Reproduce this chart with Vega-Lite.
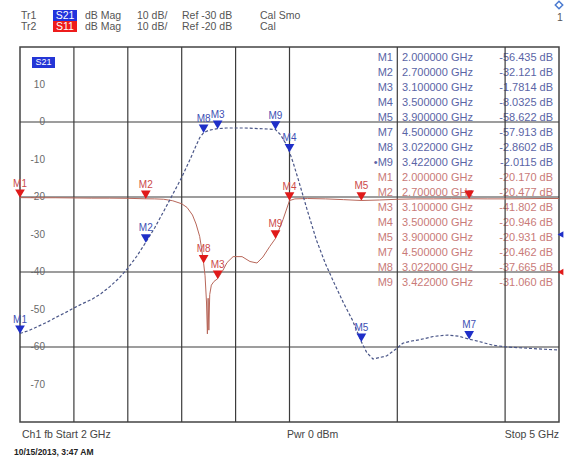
{
  "$schema": "https://vega.github.io/schema/vega-lite/v6.json",
  "width": 539,
  "height": 375,
  "autosize": {"type": "none"},
  "padding": {"left": 20, "top": 47, "right": 7, "bottom": 39},
  "background": "white",
  "config": {"view": {"stroke": "#444444", "strokeWidth": 1.5}, "font": "Liberation Sans", "text": {"font": "Liberation Sans"}},
  "resolve": {"scale": {"y": "independent", "color": "independent"}},
  "data": {"values": [{}]},
  "datasets": {
    "s21": [
      {"f": 2.00, "db": -56.4}, {"f": 2.05, "db": -55.6}, {"f": 2.10, "db": -54.5}, {"f": 2.15, "db": -53.4},
      {"f": 2.20, "db": -52.1}, {"f": 2.25, "db": -50.9}, {"f": 2.30, "db": -49.6}, {"f": 2.35, "db": -48.4},
      {"f": 2.40, "db": -47.3}, {"f": 2.45, "db": -45.8}, {"f": 2.50, "db": -43.9}, {"f": 2.55, "db": -41.7},
      {"f": 2.60, "db": -39.0}, {"f": 2.65, "db": -35.8}, {"f": 2.70, "db": -32.1}, {"f": 2.75, "db": -28.2},
      {"f": 2.80, "db": -23.8}, {"f": 2.85, "db": -19.3}, {"f": 2.90, "db": -14.8}, {"f": 2.95, "db": -9.6},
      {"f": 2.98, "db": -6.3}, {"f": 3.00, "db": -4.2}, {"f": 3.022, "db": -2.86}, {"f": 3.05, "db": -2.2},
      {"f": 3.10, "db": -1.78}, {"f": 3.15, "db": -1.6}, {"f": 3.20, "db": -1.6}, {"f": 3.25, "db": -1.6},
      {"f": 3.30, "db": -1.7}, {"f": 3.35, "db": -1.8}, {"f": 3.39, "db": -1.9}, {"f": 3.422, "db": -2.01},
      {"f": 3.45, "db": -3.4}, {"f": 3.48, "db": -5.8}, {"f": 3.50, "db": -8.03}, {"f": 3.52, "db": -10.8},
      {"f": 3.55, "db": -15.5}, {"f": 3.60, "db": -23.7}, {"f": 3.65, "db": -31.5}, {"f": 3.70, "db": -37.8},
      {"f": 3.75, "db": -43.1}, {"f": 3.80, "db": -48.2}, {"f": 3.85, "db": -52.8}, {"f": 3.90, "db": -58.6},
      {"f": 3.93, "db": -61.5}, {"f": 3.965, "db": -63.2}, {"f": 4.04, "db": -62.4}, {"f": 4.10, "db": -60.3},
      {"f": 4.13, "db": -59.0}, {"f": 4.18, "db": -58.4}, {"f": 4.23, "db": -58.0}, {"f": 4.30, "db": -57.2},
      {"f": 4.38, "db": -56.8}, {"f": 4.44, "db": -57.1}, {"f": 4.50, "db": -57.9}, {"f": 4.56, "db": -58.6},
      {"f": 4.63, "db": -59.5}, {"f": 4.71, "db": -60.0}, {"f": 4.78, "db": -60.2}, {"f": 4.85, "db": -60.4},
      {"f": 4.92, "db": -60.6}, {"f": 5.00, "db": -60.8}
    ],
    "s11": [
      {"f": 2.00, "db": -20.17}, {"f": 2.10, "db": -20.2}, {"f": 2.20, "db": -20.2}, {"f": 2.30, "db": -20.25},
      {"f": 2.40, "db": -20.3}, {"f": 2.50, "db": -20.3}, {"f": 2.60, "db": -20.35}, {"f": 2.70, "db": -20.48},
      {"f": 2.75, "db": -20.5}, {"f": 2.80, "db": -20.6}, {"f": 2.85, "db": -21.0}, {"f": 2.90, "db": -21.8},
      {"f": 2.93, "db": -22.8}, {"f": 2.96, "db": -24.8}, {"f": 2.98, "db": -27.2}, {"f": 3.00, "db": -30.5},
      {"f": 3.01, "db": -33.5}, {"f": 3.022, "db": -37.67}, {"f": 3.030, "db": -41.0}, {"f": 3.038, "db": -48.0},
      {"f": 3.043, "db": -56.5}, {"f": 3.047, "db": -47.0}, {"f": 3.051, "db": -55.5}, {"f": 3.056, "db": -46.0},
      {"f": 3.065, "db": -43.5}, {"f": 3.08, "db": -42.5}, {"f": 3.10, "db": -41.8}, {"f": 3.13, "db": -39.5},
      {"f": 3.152, "db": -37.5}, {"f": 3.186, "db": -35.9}, {"f": 3.236, "db": -35.9}, {"f": 3.28, "db": -37.2},
      {"f": 3.319, "db": -37.6}, {"f": 3.352, "db": -36.0}, {"f": 3.39, "db": -33.2}, {"f": 3.422, "db": -31.06},
      {"f": 3.464, "db": -26.0}, {"f": 3.50, "db": -20.95}, {"f": 3.53, "db": -20.5}, {"f": 3.60, "db": -20.4},
      {"f": 3.70, "db": -20.5}, {"f": 3.80, "db": -20.7}, {"f": 3.90, "db": -20.93}, {"f": 4.00, "db": -20.8},
      {"f": 4.10, "db": -20.6}, {"f": 4.20, "db": -20.5}, {"f": 4.30, "db": -20.5}, {"f": 4.40, "db": -20.45},
      {"f": 4.50, "db": -20.46}, {"f": 4.60, "db": -20.5}, {"f": 4.70, "db": -20.5}, {"f": 4.80, "db": -20.45},
      {"f": 4.90, "db": -20.4}, {"f": 5.00, "db": -20.4}
    ],
    "markers": [
      {"trace": "S21", "m": "M1", "f": 2.0, "db": -56.435},
      {"trace": "S21", "m": "M2", "f": 2.7, "db": -32.121},
      {"trace": "S21", "m": "M3", "f": 3.1, "db": -1.7814},
      {"trace": "S21", "m": "M4", "f": 3.5, "db": -8.0325},
      {"trace": "S21", "m": "M5", "f": 3.9, "db": -58.622},
      {"trace": "S21", "m": "M7", "f": 4.5, "db": -57.913},
      {"trace": "S21", "m": "M8", "f": 3.022, "db": -2.8602},
      {"trace": "S21", "m": "M9", "f": 3.422, "db": -2.0115},
      {"trace": "S11", "m": "M1", "f": 2.0, "db": -20.17},
      {"trace": "S11", "m": "M2", "f": 2.7, "db": -20.477},
      {"trace": "S11", "m": "M3", "f": 3.1, "db": -41.802},
      {"trace": "S11", "m": "M4", "f": 3.5, "db": -20.946},
      {"trace": "S11", "m": "M5", "f": 3.9, "db": -20.931},
      {"trace": "S11", "m": "M7", "f": 4.5, "db": -20.462},
      {"trace": "S11", "m": "M8", "f": 3.022, "db": -37.665},
      {"trace": "S11", "m": "M9", "f": 3.422, "db": -31.06}
    ],
    "table": [
      {"row": 0, "trace": "S21", "m": "M1", "freq": "2.000000 GHz", "val": "-56.435 dB"},
      {"row": 1, "trace": "S21", "m": "M2", "freq": "2.700000 GHz", "val": "-32.121 dB"},
      {"row": 2, "trace": "S21", "m": "M3", "freq": "3.100000 GHz", "val": "-1.7814 dB"},
      {"row": 3, "trace": "S21", "m": "M4", "freq": "3.500000 GHz", "val": "-8.0325 dB"},
      {"row": 4, "trace": "S21", "m": "M5", "freq": "3.900000 GHz", "val": "-58.622 dB"},
      {"row": 5, "trace": "S21", "m": "M7", "freq": "4.500000 GHz", "val": "-57.913 dB"},
      {"row": 6, "trace": "S21", "m": "M8", "freq": "3.022000 GHz", "val": "-2.8602 dB"},
      {"row": 7, "trace": "S21", "m": "•M9", "freq": "3.422000 GHz", "val": "-2.0115 dB"},
      {"row": 8, "trace": "S11", "m": "M1", "freq": "2.000000 GHz", "val": "-20.170 dB"},
      {"row": 9, "trace": "S11", "m": "M2", "freq": "2.700000 GHz", "val": "-20.477 dB"},
      {"row": 10, "trace": "S11", "m": "M3", "freq": "3.100000 GHz", "val": "-41.802 dB"},
      {"row": 11, "trace": "S11", "m": "M4", "freq": "3.500000 GHz", "val": "-20.946 dB"},
      {"row": 12, "trace": "S11", "m": "M5", "freq": "3.900000 GHz", "val": "-20.931 dB"},
      {"row": 13, "trace": "S11", "m": "M7", "freq": "4.500000 GHz", "val": "-20.462 dB"},
      {"row": 14, "trace": "S11", "m": "M8", "freq": "3.022000 GHz", "val": "-37.665 dB"},
      {"row": 15, "trace": "S11", "m": "M9", "freq": "3.422000 GHz", "val": "-31.060 dB"}
    ],
    "vgrid": [{"f": 2.3}, {"f": 2.6}, {"f": 2.9}, {"f": 3.2}, {"f": 3.5}, {"f": 4.1}, {"f": 4.7}],
    "hgrid": [{"db": 0}, {"db": -20}, {"db": -40}, {"db": -60}],
    "ylabels": [
      {"db": 10, "label": "10"}, {"db": 0, "label": "0"}, {"db": -10, "label": "-10"}, {"db": -20, "label": "-20"},
      {"db": -30, "label": "-30"}, {"db": -40, "label": "-40"}, {"db": -50, "label": "-50"}, {"db": -60, "label": "-60"},
      {"db": -70, "label": "-70"}
    ],
    "refs": [{"trace": "S21", "ref": -30}, {"trace": "S11", "ref": -40}]
  },
  "layer": [
    {
      "data": {"name": "table"},
      "mark": {"type": "text", "align": "right", "baseline": "middle", "fontSize": 11, "clip": false},
      "encoding": {
        "x": {"datum": 4.076, "type": "quantitative", "scale": {"domain": [2, 5], "nice": false, "zero": false}, "axis": null},
        "y": {"field": "row", "type": "quantitative", "scale": {"domain": [-0.7333, 24.2667], "nice": false, "zero": false, "reverse": true}, "axis": null},
        "text": {"field": "m"},
        "color": {"field": "trace", "type": "nominal", "scale": {"domain": ["S21", "S11"], "range": ["#5a64a6", "#c97a78"]}, "legend": null}
      }
    },
    {
      "data": {"name": "table"},
      "mark": {"type": "text", "align": "left", "baseline": "middle", "fontSize": 11, "clip": false},
      "encoding": {
        "x": {"datum": 4.126, "type": "quantitative", "scale": {"domain": [2, 5], "nice": false, "zero": false}, "axis": null},
        "y": {"field": "row", "type": "quantitative", "scale": {"domain": [-0.7333, 24.2667], "nice": false, "zero": false, "reverse": true}, "axis": null},
        "text": {"field": "freq"},
        "color": {"field": "trace", "type": "nominal", "scale": {"domain": ["S21", "S11"], "range": ["#5a64a6", "#c97a78"]}, "legend": null}
      }
    },
    {
      "data": {"name": "table"},
      "mark": {"type": "text", "align": "right", "baseline": "middle", "fontSize": 11, "clip": false},
      "encoding": {
        "x": {"datum": 4.967, "type": "quantitative", "scale": {"domain": [2, 5], "nice": false, "zero": false}, "axis": null},
        "y": {"field": "row", "type": "quantitative", "scale": {"domain": [-0.7333, 24.2667], "nice": false, "zero": false, "reverse": true}, "axis": null},
        "text": {"field": "val"},
        "color": {"field": "trace", "type": "nominal", "scale": {"domain": ["S21", "S11"], "range": ["#5a64a6", "#c97a78"]}, "legend": null}
      }
    },
    {
      "data": {"name": "vgrid"},
      "mark": {"type": "rule", "color": "#3c3c3c", "strokeWidth": 1.2},
      "encoding": {
        "x": {"field": "f", "type": "quantitative", "scale": {"domain": [2, 5], "nice": false, "zero": false}, "axis": null}
      }
    },
    {
      "data": {"name": "hgrid"},
      "mark": {"type": "rule", "color": "#3c3c3c", "strokeWidth": 1.2},
      "encoding": {
        "y": {"field": "db", "type": "quantitative", "scale": {"domain": [-80, 20], "nice": false, "zero": false}, "axis": null}
      }
    },
    {
      "data": {"name": "ylabels"},
      "mark": {"type": "text", "align": "right", "baseline": "middle", "fontSize": 10, "color": "#6a6a6a", "clip": false},
      "encoding": {
        "x": {"datum": 2.1391, "type": "quantitative", "scale": {"domain": [2, 5], "nice": false, "zero": false}, "axis": null},
        "y": {"field": "db", "type": "quantitative", "scale": {"domain": [-80, 20], "nice": false, "zero": false}, "axis": null},
        "text": {"field": "label"}
      }
    },
    {
      "data": {"name": "s11"},
      "mark": {"type": "line", "color": "#b8675a", "strokeWidth": 1},
      "encoding": {
        "x": {"field": "f", "type": "quantitative", "scale": {"domain": [2, 5], "nice": false, "zero": false}, "axis": null},
        "y": {"field": "db", "type": "quantitative", "scale": {"domain": [-80, 20], "nice": false, "zero": false}, "axis": null}
      }
    },
    {
      "data": {"name": "s21"},
      "mark": {"type": "line", "color": "#4a5688", "strokeWidth": 1.2, "strokeDash": [3, 2]},
      "encoding": {
        "x": {"field": "f", "type": "quantitative", "scale": {"domain": [2, 5], "nice": false, "zero": false}, "axis": null},
        "y": {"field": "db", "type": "quantitative", "scale": {"domain": [-80, 20], "nice": false, "zero": false}, "axis": null}
      }
    },
    {
      "data": {"name": "markers"},
      "mark": {"type": "point", "shape": "triangle-down", "filled": true, "size": 95, "opacity": 1, "yOffset": -4, "clip": false},
      "encoding": {
        "x": {"field": "f", "type": "quantitative", "scale": {"domain": [2, 5], "nice": false, "zero": false}, "axis": null},
        "y": {"field": "db", "type": "quantitative", "scale": {"domain": [-80, 20], "nice": false, "zero": false}, "axis": null},
        "color": {"field": "trace", "type": "nominal", "scale": {"domain": ["S21", "S11"], "range": ["#1f2fc8", "#e01a1a"]}, "legend": null}
      }
    },
    {
      "data": {"name": "markers"},
      "transform": [{"filter": "datum.trace != 'S11' || datum.m != 'M7'"}],
      "mark": {"type": "text", "align": "center", "baseline": "middle", "fontSize": 10, "dy": -14, "clip": false},
      "encoding": {
        "x": {"field": "f", "type": "quantitative", "scale": {"domain": [2, 5], "nice": false, "zero": false}, "axis": null},
        "y": {"field": "db", "type": "quantitative", "scale": {"domain": [-80, 20], "nice": false, "zero": false}, "axis": null},
        "text": {"field": "m"},
        "color": {"field": "trace", "type": "nominal", "scale": {"domain": ["S21", "S11"], "range": ["#4050b4", "#cc4a4a"]}, "legend": null}
      }
    },
    {
      "data": {"name": "refs"},
      "mark": {"type": "point", "shape": "triangle-left", "filled": true, "size": 45, "opacity": 1, "xOffset": 1.5, "clip": false},
      "encoding": {
        "x": {"datum": 5.0, "type": "quantitative", "scale": {"domain": [2, 5], "nice": false, "zero": false}, "axis": null},
        "y": {"field": "ref", "type": "quantitative", "scale": {"domain": [-80, 20], "nice": false, "zero": false}, "axis": null},
        "color": {"field": "trace", "type": "nominal", "scale": {"domain": ["S21", "S11"], "range": ["#1f2fc8", "#e01a1a"]}, "legend": null}
      }
    },
    {
      "mark": {"type": "rect", "color": "#2436d6", "clip": false},
      "encoding": {
        "x": {"datum": 2.0668, "type": "quantitative", "scale": {"domain": [2, 5], "nice": false, "zero": false}, "axis": null},
        "x2": {"datum": 2.1948},
        "y": {"datum": 17.33, "type": "quantitative", "scale": {"domain": [-80, 20], "nice": false, "zero": false}, "axis": null},
        "y2": {"datum": 14.4}
      }
    },
    {
      "mark": {"type": "text", "text": "S21", "color": "white", "fontSize": 9, "align": "center", "baseline": "middle", "clip": false},
      "encoding": {
        "x": {"datum": 2.1308, "type": "quantitative", "scale": {"domain": [2, 5], "nice": false, "zero": false}, "axis": null},
        "y": {"datum": 15.87, "type": "quantitative", "scale": {"domain": [-80, 20], "nice": false, "zero": false}, "axis": null}
      }
    },
    {
      "mark": {"type": "rect", "color": "#2233dd", "clip": false},
      "encoding": {
        "x": {"datum": 2.1837, "type": "quantitative", "scale": {"domain": [2, 5], "nice": false, "zero": false}, "axis": null},
        "x2": {"datum": 2.3173},
        "y": {"datum": 29.87, "type": "quantitative", "scale": {"domain": [-80, 20], "nice": false, "zero": false}, "axis": null},
        "y2": {"datum": 26.93}
      }
    },
    {
      "mark": {"type": "rect", "color": "#ee1c1c", "clip": false},
      "encoding": {
        "x": {"datum": 2.1837, "type": "quantitative", "scale": {"domain": [2, 5], "nice": false, "zero": false}, "axis": null},
        "x2": {"datum": 2.3173},
        "y": {"datum": 26.93, "type": "quantitative", "scale": {"domain": [-80, 20], "nice": false, "zero": false}, "axis": null},
        "y2": {"datum": 24.0}
      }
    },
    {
      "mark": {"type": "text", "text": ["S21", "S11"], "lineHeight": 11, "color": "white", "fontSize": 10.5, "align": "center", "baseline": "middle", "clip": false},
      "encoding": {
        "x": {"datum": 2.2505, "type": "quantitative", "scale": {"domain": [2, 5], "nice": false, "zero": false}, "axis": null},
        "y": {"datum": 28.4, "type": "quantitative", "scale": {"domain": [-80, 20], "nice": false, "zero": false}, "axis": null}
      }
    },
    {
      "mark": {"type": "text", "text": ["Tr1", "Tr2"], "lineHeight": 11, "color": "#555555", "fontSize": 10.5, "align": "left", "baseline": "middle", "clip": false},
      "encoding": {
        "x": {"datum": 2.0056, "type": "quantitative", "scale": {"domain": [2, 5], "nice": false, "zero": false}, "axis": null},
        "y": {"datum": 28.4, "type": "quantitative", "scale": {"domain": [-80, 20], "nice": false, "zero": false}, "axis": null}
      }
    },
    {
      "mark": {"type": "text", "text": ["dB Mag", "dB Mag"], "lineHeight": 11, "color": "#555555", "fontSize": 10.5, "align": "left", "baseline": "middle", "clip": false},
      "encoding": {
        "x": {"datum": 2.3618, "type": "quantitative", "scale": {"domain": [2, 5], "nice": false, "zero": false}, "axis": null},
        "y": {"datum": 28.4, "type": "quantitative", "scale": {"domain": [-80, 20], "nice": false, "zero": false}, "axis": null}
      }
    },
    {
      "mark": {"type": "text", "text": ["10 dB/", "10 dB/"], "lineHeight": 11, "color": "#555555", "fontSize": 10.5, "align": "left", "baseline": "middle", "clip": false},
      "encoding": {
        "x": {"datum": 2.6512, "type": "quantitative", "scale": {"domain": [2, 5], "nice": false, "zero": false}, "axis": null},
        "y": {"datum": 28.4, "type": "quantitative", "scale": {"domain": [-80, 20], "nice": false, "zero": false}, "axis": null}
      }
    },
    {
      "mark": {"type": "text", "text": ["Ref -30 dB", "Ref -20 dB"], "lineHeight": 11, "color": "#555555", "fontSize": 10.5, "align": "left", "baseline": "middle", "clip": false},
      "encoding": {
        "x": {"datum": 2.9017, "type": "quantitative", "scale": {"domain": [2, 5], "nice": false, "zero": false}, "axis": null},
        "y": {"datum": 28.4, "type": "quantitative", "scale": {"domain": [-80, 20], "nice": false, "zero": false}, "axis": null}
      }
    },
    {
      "mark": {"type": "text", "text": ["Cal Smo", "Cal"], "lineHeight": 11, "color": "#555555", "fontSize": 10.5, "align": "left", "baseline": "middle", "clip": false},
      "encoding": {
        "x": {"datum": 3.3358, "type": "quantitative", "scale": {"domain": [2, 5], "nice": false, "zero": false}, "axis": null},
        "y": {"datum": 28.4, "type": "quantitative", "scale": {"domain": [-80, 20], "nice": false, "zero": false}, "axis": null}
      }
    },
    {
      "mark": {"type": "text", "text": "1", "color": "#555555", "fontSize": 10.5, "align": "center", "baseline": "middle", "clip": false},
      "encoding": {
        "x": {"datum": 5.005, "type": "quantitative", "scale": {"domain": [2, 5], "nice": false, "zero": false}, "axis": null},
        "y": {"datum": 27.7, "type": "quantitative", "scale": {"domain": [-80, 20], "nice": false, "zero": false}, "axis": null}
      }
    },
    {
      "mark": {"type": "point", "shape": "diamond", "filled": false, "size": 55, "color": "#4a7ad0", "strokeWidth": 1.5, "opacity": 1, "clip": false},
      "encoding": {
        "x": {"datum": 5.0, "type": "quantitative", "scale": {"domain": [2, 5], "nice": false, "zero": false}, "axis": null},
        "y": {"datum": 31.2, "type": "quantitative", "scale": {"domain": [-80, 20], "nice": false, "zero": false}, "axis": null}
      }
    },
    {
      "mark": {"type": "text", "text": "Ch1   fb   Start 2 GHz", "color": "#444444", "fontSize": 10.5, "align": "left", "baseline": "middle", "clip": false},
      "encoding": {
        "x": {"datum": 2.0111, "type": "quantitative", "scale": {"domain": [2, 5], "nice": false, "zero": false}, "axis": null},
        "y": {"datum": -83.5, "type": "quantitative", "scale": {"domain": [-80, 20], "nice": false, "zero": false}, "axis": null}
      }
    },
    {
      "mark": {"type": "text", "text": "Pwr  0 dBm", "color": "#444444", "fontSize": 10.5, "align": "left", "baseline": "middle", "clip": false},
      "encoding": {
        "x": {"datum": 3.4861, "type": "quantitative", "scale": {"domain": [2, 5], "nice": false, "zero": false}, "axis": null},
        "y": {"datum": -83.5, "type": "quantitative", "scale": {"domain": [-80, 20], "nice": false, "zero": false}, "axis": null}
      }
    },
    {
      "mark": {"type": "text", "text": "Stop 5 GHz", "color": "#444444", "fontSize": 10.5, "align": "right", "baseline": "middle", "clip": false},
      "encoding": {
        "x": {"datum": 5.0, "type": "quantitative", "scale": {"domain": [2, 5], "nice": false, "zero": false}, "axis": null},
        "y": {"datum": -83.5, "type": "quantitative", "scale": {"domain": [-80, 20], "nice": false, "zero": false}, "axis": null}
      }
    },
    {
      "mark": {"type": "text", "text": "10/15/2013, 3:47 AM", "color": "#222222", "fontSize": 8.5, "fontWeight": "bold", "align": "left", "baseline": "middle", "clip": false},
      "encoding": {
        "x": {"datum": 1.9666, "type": "quantitative", "scale": {"domain": [2, 5], "nice": false, "zero": false}, "axis": null},
        "y": {"datum": -87.9, "type": "quantitative", "scale": {"domain": [-80, 20], "nice": false, "zero": false}, "axis": null}
      }
    }
  ]
}
